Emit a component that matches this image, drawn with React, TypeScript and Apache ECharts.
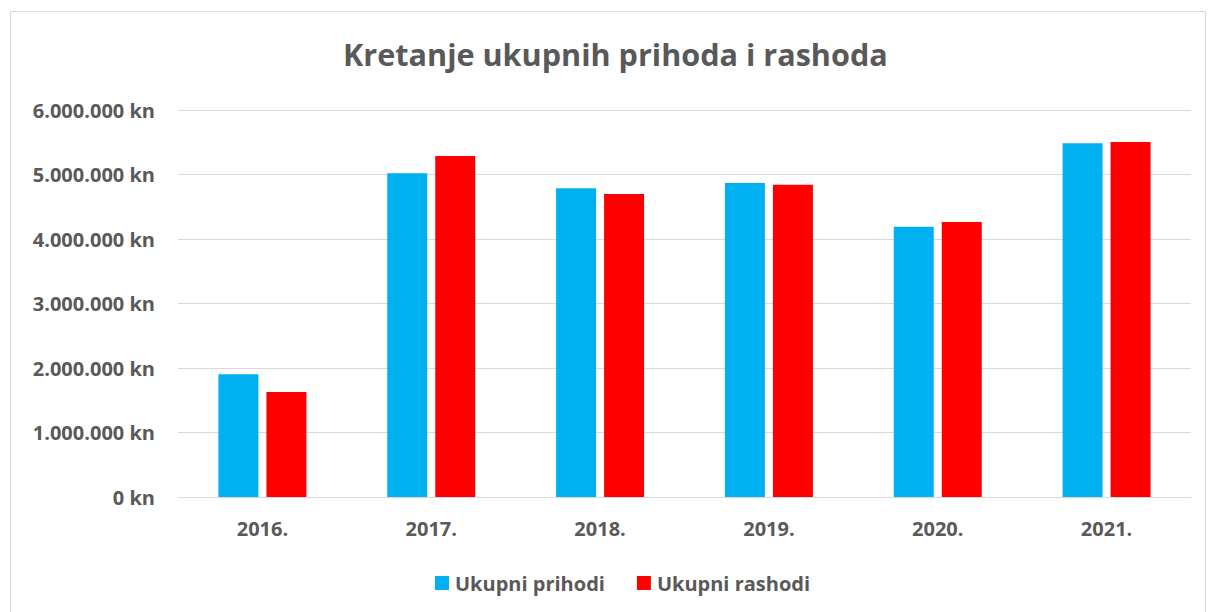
import React, { useEffect, useRef } from "react";
import * as echarts from "echarts";

const categories = ["2016.", "2017.", "2018.", "2019.", "2020.", "2021."];
const prihodi = [1905000, 5020000, 4785000, 4870000, 4190000, 5485000];
const rashodi = [1626000, 5286000, 4697000, 4840000, 4265000, 5503000];
const seriesNames = ["Ukupni prihodi", "Ukupni rashodi"];
const titleText = "Kretanje ukupnih prihoda i rashoda";

const FONT = "'Open Sans', 'Noto Sans', sans-serif";
const TEXT = "#595959";

function fmt(v: number): string {
  const s = Math.round(v).toString().replace(/\B(?=(\d{3})+(?!\d))/g, ".");
  return s + " kn";
}

export default function App() {
  const ref = useRef<HTMLDivElement>(null);
  useEffect(() => {
    if (!ref.current) return;
    const chart = echarts.init(ref.current, undefined, { renderer: "svg" });
    chart.setOption({
      animation: false,
      backgroundColor: "#ffffff",
      title: {
        text: titleText,
        left: 338,
        top: 33,
        textStyle: { fontFamily: FONT, fontWeight: "bold", fontSize: 30.6, color: TEXT },
      },
      graphic: [
        {
          type: "rect",
          shape: { x: 10.5, y: 11.5, width: 1195, height: 610 },
          style: { fill: "none", stroke: "#d9d9d9", lineWidth: 1 },
          silent: true,
        },
      ],
      legend: {
        top: 568,
        left: 430,
        itemWidth: 14,
        itemHeight: 14,
        itemGap: 32,
        icon: "rect",
        textStyle: { fontFamily: FONT, fontWeight: "bold", fontSize: 20, color: TEXT, padding: [0, 0, 0, 1] },
        data: seriesNames,
      },
      grid: { left: 178, right: 17, top: 110, bottom: 115, containLabel: false },
      xAxis: {
        type: "category",
        data: categories,
        axisLine: { lineStyle: { color: "#d9d9d9", width: 1 } },
        axisTick: { show: false },
        axisLabel: { fontFamily: FONT, fontWeight: "bold", fontSize: 20, color: TEXT, margin: 21 },
      },
      yAxis: {
        type: "value",
        min: 0,
        max: 6000000,
        interval: 1000000,
        axisLine: { show: false },
        axisTick: { show: false },
        splitLine: { lineStyle: { color: "#d9d9d9", width: 1 } },
        axisLabel: {
          fontFamily: FONT,
          fontWeight: "bold",
          fontSize: 20,
          color: TEXT,
          margin: 23,
          formatter: (v: number) => fmt(v),
        },
      },
      series: [
        {
          name: seriesNames[0],
          type: "bar",
          data: prihodi,
          barWidth: 40,
          barGap: "20%",
          itemStyle: { color: "#00B0F0" },
        },
        {
          name: seriesNames[1],
          type: "bar",
          data: rashodi,
          barWidth: 40,
          barGap: "20%",
          itemStyle: { color: "#FF0000" },
        },
      ],
    });
    return () => chart.dispose();
  }, []);
  return (
    <div
      ref={ref}
      style={{ position: "absolute", left: 0, top: 0, width: 1208, height: 612 }}
    />
  );
}
